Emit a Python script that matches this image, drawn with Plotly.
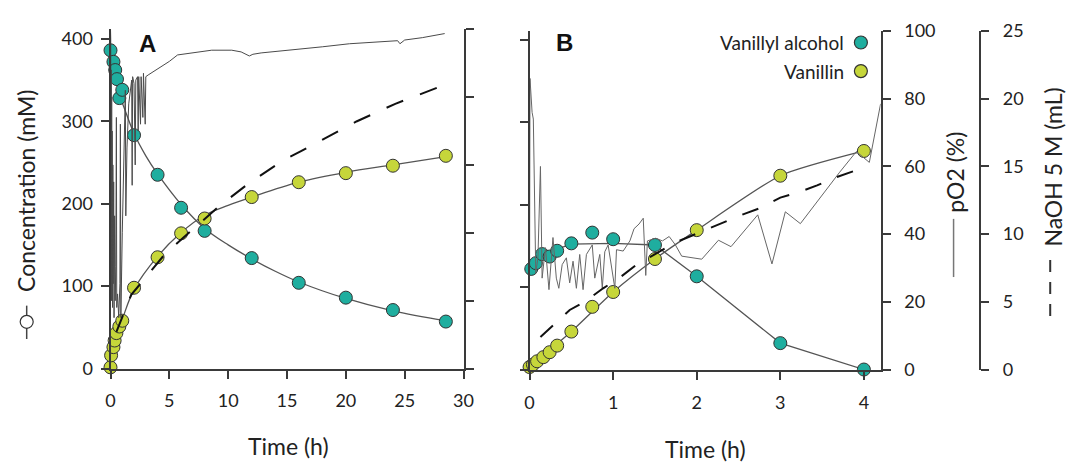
import plotly.graph_objects as go

W, H = 1075, 472

# ---------------- Panel A data ----------------
A_alc_t = [0, 0.25, 0.4, 0.55, 0.75, 1.0, 2, 4, 6, 8, 12, 16, 20, 24, 28.5]
A_alc_c = [386, 372, 362, 351, 328, 338, 283, 235, 195, 167, 134, 104, 86, 71, 57]
A_van_t = [0, 0.05, 0.25, 0.35, 0.5, 0.75, 1.0, 2, 4, 6, 8, 12, 16, 20, 24, 28.5]
A_van_c = [1.5, 16, 26, 34, 43, 51, 58, 98, 135, 164, 182, 208, 226, 237, 246, 258]

A_alc_fit_t = [0.6, 1, 2, 3, 4, 6, 8, 10, 12, 14, 16, 20, 24, 28.5]
A_alc_fit_c = [335, 322, 285, 258, 236, 199, 170, 150, 133, 118, 105, 85, 70, 58]
A_van_fit_t = [0.75, 1, 2, 4, 6, 8, 10, 12, 16, 20, 24, 28.5]
A_van_fit_c = [52, 60, 96, 136, 165, 186, 198, 208, 226, 238, 247, 257]

A_naoh_t = [0.5, 1.76, 4.69, 9.29, 11.69, 14.6, 16.15, 19.3, 20.9, 24.2, 27.45, 28.4]
A_naoh_v = [2.7, 5.43, 8.5, 12.0, 13.6, 15.3, 16.0, 17.5, 18.2, 19.5, 20.6, 20.9]

A_po2_t = [0.00, 0.02, 0.04, 0.06, 0.08, 0.10, 0.12, 0.14, 0.17, 0.20, 0.23, 0.27,
           0.30, 0.35, 0.40, 0.45, 0.50, 0.53, 0.60, 0.70, 0.80, 0.84, 0.88, 1.00,
           1.15, 1.26, 1.30, 1.40, 1.55, 1.70, 1.80, 1.84, 1.88, 2.00, 2.10, 2.15,
           2.30, 2.35, 2.40, 2.55, 2.60, 2.75, 2.80, 2.95, 3.00, 3.20, 3.6, 4.4,
           5.0, 5.7, 6.5, 7.8, 8.6, 10.3, 11.1, 11.8, 12.1, 12.8, 14.0, 16.2,
           18.0, 20.3, 22.0, 24.4, 24.6, 25.0, 26.5, 28.4]
A_po2_v = [100, 97, 40, 88, 20, 80, 30, 70, 18, 60, 25, 55,
           15, 45, 20, 30, 74, 18, 22, 15, 25, 72, 15, 40,
           60, 82, 45, 65, 78, 82, 85, 54, 86, 84, 60, 85,
           86, 70, 86, 72, 86, 74, 87, 72, 86, 86.5, 87.4, 89,
           90.5, 92.4, 92.8, 93.3, 93.8, 93.8, 93.3, 92.1, 92.6, 93, 93.4, 94,
           94.8, 95.7, 96.1, 96.6, 95.7, 96.8, 97.5, 98.7]

# ---------------- Panel B data ----------------
B_alc_t = [0.02, 0.075, 0.15, 0.24, 0.33, 0.5, 0.75, 1.0, 1.5, 2, 3, 4]
B_alc_c = [122, 129, 140, 137, 144, 153, 166, 158, 151, 113, 32, 0]
B_van_t = [0, 0.04, 0.09, 0.165, 0.24, 0.33, 0.5, 0.75, 1.0, 1.5, 2, 3, 4]
B_van_c = [3, 6, 10, 15, 21, 29, 46, 76, 94, 134, 169, 235, 265]

B_alc_fit_t = [0.3, 0.5, 1.0, 1.5, 2, 3, 4]
B_alc_fit_c = [145, 152, 153, 151, 113, 32, 0]
B_van_fit_t = [0, 0.5, 1, 1.5, 2, 3, 4]
B_van_fit_c = [3, 46, 94, 134, 169, 235, 265]

B_naoh_t = [0.13, 0.27, 0.48, 0.66, 0.88, 1.06, 1.27, 1.75, 2.33, 2.57, 2.75, 3.0, 3.22, 3.44, 3.67, 3.99]
B_naoh_v = [2.4, 3.2, 4.4, 5.0, 6.0, 6.7, 7.7, 9.4, 10.9, 11.5, 11.9, 12.7, 13.1, 13.6, 14.2, 14.9]

B_po2_t = [0.0, 0.005, 0.03, 0.045, 0.074, 0.10, 0.13, 0.15, 0.19, 0.232, 0.28, 0.32,
           0.35, 0.39, 0.44, 0.48, 0.52, 0.56, 0.60, 0.64, 0.68, 0.75, 0.78, 0.84,
           0.87, 0.90, 0.94, 0.98, 1.02, 1.04, 1.12, 1.20, 1.25, 1.31, 1.36, 1.39,
           1.41, 1.51, 1.59, 1.67, 1.745, 1.82, 2.06, 2.26, 2.41, 2.73, 2.90, 3.06,
           3.24, 3.71, 3.91, 4.065, 4.2]
B_po2_v = [30, 86, 76, 74, 28.5, 33, 60, 27, 36, 23.6, 39, 27,
           24, 31, 33, 25.6, 32, 24, 34, 23.6, 34, 36.8, 27, 34,
           24, 34.8, 36.8, 29.8, 24, 35.4, 35, 38, 41.6, 43, 44.7, 27.8,
           38, 38.8, 38, 39.3, 36.8, 33.5, 32.6, 38.2, 36.3, 45.7, 31.2, 46.6,
           43.1, 58.3, 64.4, 61.2, 78.5]

A_xticks = [0, 5, 10, 15, 20, 25, 30]
B_xticks = [0, 1, 2, 3, 4]
conc_ticks = [0, 100, 200, 300, 400]
po2_ticks = [0, 20, 40, 60, 80, 100]
naoh_ticks = [0, 5, 10, 15, 20, 25]

TEAL = '#1fae9f'
YELLOW = '#c6d63a'
EDGE = '#333333'
AXC = '#3a3a3a'
TXT = '#222222'
FONT = 'Lato'


def px(x):
    return x / W


def py(y):
    return 1 - y / H


fig = go.Figure()

marker_style = dict(size=13, line=dict(color=EDGE, width=1))

# Panel A traces
fig.add_trace(go.Scatter(x=A_po2_t, y=A_po2_v, mode='lines', xaxis='x', yaxis='y2',
                         line=dict(color='#4a4a4a', width=1), showlegend=False))
fig.add_trace(go.Scatter(x=A_naoh_t, y=A_naoh_v, mode='lines', xaxis='x', yaxis='y3',
                         line=dict(color='#111111', width=2, dash='18px,18px'), showlegend=False))
fig.add_trace(go.Scatter(x=A_alc_fit_t, y=A_alc_fit_c, mode='lines', xaxis='x', yaxis='y',
                         line=dict(color='#555555', width=1.3, shape='spline'), showlegend=False))
fig.add_trace(go.Scatter(x=A_van_fit_t, y=A_van_fit_c, mode='lines', xaxis='x', yaxis='y',
                         line=dict(color='#555555', width=1.3, shape='spline'), showlegend=False))
fig.add_trace(go.Scatter(x=A_alc_t, y=A_alc_c, mode='markers', xaxis='x', yaxis='y',
                         marker=dict(color=TEAL, **marker_style), cliponaxis=False, showlegend=False))
fig.add_trace(go.Scatter(x=A_van_t, y=A_van_c, mode='markers', xaxis='x', yaxis='y',
                         marker=dict(color=YELLOW, **marker_style), cliponaxis=False, showlegend=False))

# Panel B traces
fig.add_trace(go.Scatter(x=B_po2_t, y=B_po2_v, mode='lines', xaxis='x2', yaxis='y5',
                         line=dict(color='#666666', width=1), showlegend=False, cliponaxis=False))
fig.add_trace(go.Scatter(x=B_naoh_t, y=B_naoh_v, mode='lines', xaxis='x2', yaxis='y6',
                         line=dict(color='#111111', width=2, dash='17px,17px'), showlegend=False))
fig.add_trace(go.Scatter(x=B_alc_fit_t, y=B_alc_fit_c, mode='lines', xaxis='x2', yaxis='y4',
                         line=dict(color='#555555', width=1.3), showlegend=False))
fig.add_trace(go.Scatter(x=B_van_fit_t, y=B_van_fit_c, mode='lines', xaxis='x2', yaxis='y4',
                         line=dict(color='#555555', width=1.3, shape='spline', smoothing=0.6), showlegend=False))
fig.add_trace(go.Scatter(x=B_alc_t, y=B_alc_c, mode='markers', xaxis='x2', yaxis='y4',
                         marker=dict(color=TEAL, **marker_style), cliponaxis=False, showlegend=False))
fig.add_trace(go.Scatter(x=B_van_t, y=B_van_c, mode='markers', xaxis='x2', yaxis='y4',
                         marker=dict(color=YELLOW, **marker_style), cliponaxis=False, showlegend=False))

tickfont = dict(family=FONT, size=18, color=TXT)
common = dict(showline=True, linecolor=AXC, linewidth=2, ticks='outside', ticklen=8,
              tickwidth=2, tickcolor=AXC, showgrid=False, zeroline=False, tickfont=tickfont)

yA = [py(374), py(18)]
yB = [py(375), py(20)]

fig.update_layout(
    width=W, height=H, margin=dict(l=0, r=0, t=0, b=0),
    paper_bgcolor='white', plot_bgcolor='rgba(0,0,0,0)',
    xaxis=dict(domain=[px(107), px(465)], anchor='y', range=[0, 30],
               tickvals=A_xticks, ticklabelstandoff=7, **common),
    yaxis=dict(domain=yA, anchor='x', range=[0, 411.6], tickvals=conc_ticks,
               ticklabelstandoff=4, **common),
    yaxis2=dict(overlaying='y', side='right', anchor='x', range=[0, 100], tickvals=po2_ticks,
                showticklabels=False, **common),
    yaxis3=dict(overlaying='y', range=[0, 25], visible=False),
    xaxis2=dict(domain=[px(532), px(888)], anchor='y4', range=[0, 4.2],
                tickvals=B_xticks, ticklabelstandoff=8, **common),
    yaxis4=dict(domain=yB, anchor='x2', range=[0, 410.4], tickvals=conc_ticks,
                showticklabels=False, **common),
    yaxis5=dict(overlaying='y4', side='right', anchor='x2', range=[0, 100], tickvals=po2_ticks,
                ticklabelstandoff=10, **common),
    yaxis6=dict(overlaying='y4', side='right', anchor='free', position=px(989), range=[0, 25],
                tickvals=naoh_ticks, ticklabelstandoff=10, **common),
)

tf = dict(family=FONT, size=23, color=TXT)
ann = [
    dict(x=px(288), y=py(455), text='Time (h)', font=tf),
    dict(x=px(710), y=py(458), text='Time (h)', font=tf),
    dict(x=px(22), y=py(188), text='Concentration (mM)', textangle=-90, font=tf),
    dict(x=px(964), y=py(168), text='pO2 (%)', textangle=-90, font=tf),
    dict(x=px(1063), y=py(163), text='NaOH 5 M (mL)', textangle=-90, font=tf),
    dict(x=px(145), y=py(33), text='<b>A</b>',
         font=dict(family='Liberation Sans', size=24, color='#111')),
    dict(x=px(567), y=py(32), text='<b>B</b>',
         font=dict(family='Liberation Sans', size=24, color='#111')),
    dict(x=px(853), y=py(32), text='Vanillyl alcohol', xanchor='right',
         font=dict(family=FONT, size=19, color=TXT)),
    dict(x=px(853), y=py(62), text='Vanillin', xanchor='right',
         font=dict(family=FONT, size=19, color=TXT)),
]
for a in ann:
    a.setdefault('xanchor', 'center')
    a.update(xref='paper', yref='paper', yanchor='middle', showarrow=False)
fig.update_layout(annotations=ann)


def circle(cx, cy, color, d=13):
    return dict(type='circle', xref='paper', yref='paper', xsizemode='pixel', ysizemode='pixel',
                xanchor=px(cx), yanchor=py(cy), x0=-d / 2, x1=d / 2, y0=-d / 2, y1=d / 2,
                fillcolor=color, line=dict(color=EDGE, width=1.2))


shapes = [
    dict(type='line', xref='paper', yref='paper', x0=px(22), x1=px(22), y0=py(308), y1=py(343),
         line=dict(color='#444', width=1.5)),
    circle(22, 325, 'white'),
    dict(type='line', xref='paper', yref='paper', x0=px(962), x1=px(962), y0=py(217), y1=py(278),
         line=dict(color='#777', width=1.5)),
    dict(type='line', xref='paper', yref='paper', x0=px(1060), x1=px(1060), y0=py(260), y1=py(320),
         line=dict(color='#333', width=2, dash='12px,10px')),
    circle(868, 32, TEAL),
    circle(868, 62, YELLOW),
]
fig.update_layout(shapes=shapes)

fig.write_html('out.html')
